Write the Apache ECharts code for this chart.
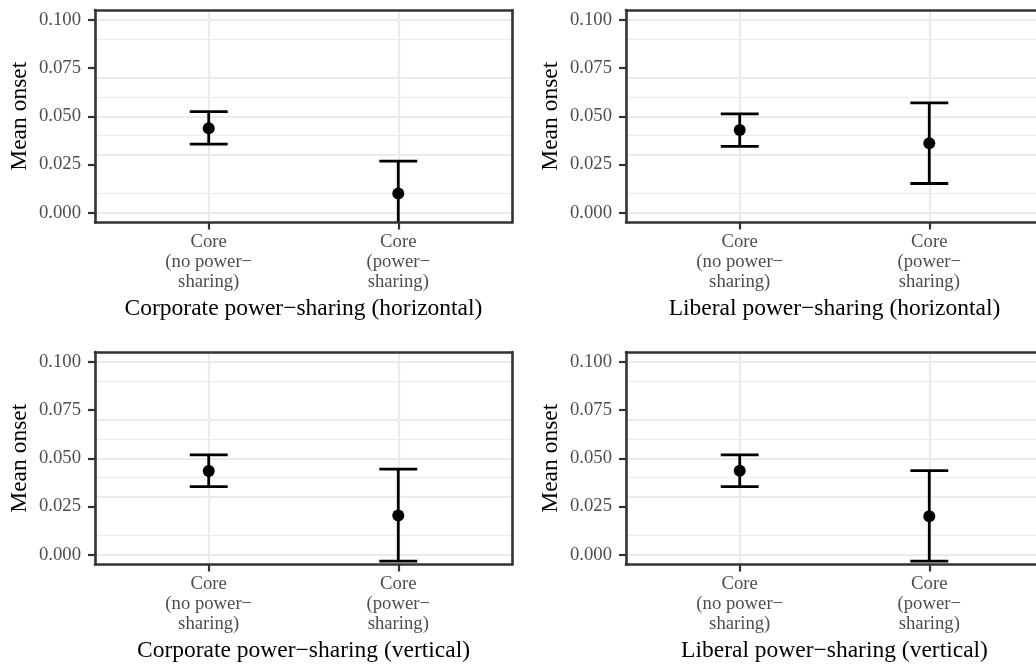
<!DOCTYPE html>
<html>
<head>
<meta charset="utf-8">
<script src="https://cdn.jsdelivr.net/npm/echarts@6/dist/echarts.min.js"></script>
<style>
html,body{margin:0;padding:0;background:#fff;}
#chart{width:1036px;height:666px;}
</style>
</head>
<body>
<div id="chart"></div>
<script>
// ---- data ----
const categoryLabels = ['Core\n(no power\u2212\nsharing)', 'Core\n(power\u2212\nsharing)'];
const categoryPositions = [1, 2];
const yTicks = [0, 0.025, 0.05, 0.075, 0.1];
const yMinorTicks = [0.0125, 0.0375, 0.0625, 0.0875];
const panelTitles = [
  'Corporate power\u2212sharing (horizontal)',
  'Liberal power\u2212sharing (horizontal)',
  'Corporate power\u2212sharing (vertical)',
  'Liberal power\u2212sharing (vertical)'
];
const yTitle = 'Mean onset';

const corpHorizMean = [0.0438, 0.0100];
const corpHorizLow  = [0.0356, -0.0068];
const corpHorizHigh = [0.0524, 0.0268];

const libHorizMean = [0.0429, 0.0360];
const libHorizLow  = [0.0344, 0.0152];
const libHorizHigh = [0.0512, 0.0569];

const corpVertMean = [0.0434, 0.0204];
const corpVertLow  = [0.0353, -0.0033];
const corpVertHigh = [0.0517, 0.0444];

const libVertMean = [0.0435, 0.0200];
const libVertLow  = [0.0353, -0.0033];
const libVertHigh = [0.0517, 0.0436];

const panels = [
  {mean: corpHorizMean, low: corpHorizLow, high: corpHorizHigh},
  {mean: libHorizMean, low: libHorizLow, high: libHorizHigh},
  {mean: corpVertMean, low: corpVertLow, high: corpVertHigh},
  {mean: libVertMean, low: libVertLow, high: libVertHigh}
];

// ---- layout / style ----
const FONT = 'Liberation Serif';
const Y_MIN = -0.005, Y_MAX = 0.105;
const X_MIN = 0.4, X_MAX = 2.6;
const FULL_W = 417;         // full panel width (right panels are cut by the page edge)
const CAP_WIDTH = 0.2;      // in category units
const gridPos = [
  {left: 95, top: 10, width: 417, height: 212.5, cut: false},
  {left: 626, top: 10, width: 410, height: 212.5, cut: true},
  {left: 95, top: 352, width: 417, height: 212.5, cut: false},
  {left: 626, top: 352, width: 410, height: 212.5, cut: true}
];
const BORDER = '#333333';
const BORDER_W = 2.6;
const GRID_COL = '#EBEBEB';

const grids = [], xAxes = [], yAxes = [], series = [];

panels.forEach((p, i) => {
  const g = gridPos[i];
  grids.push({left: g.left, top: g.top, width: g.width, height: g.height, containLabel: false});
  const xMax = X_MIN + (X_MAX - X_MIN) * g.width / FULL_W;
  const shift = (FULL_W - g.width); // keep title centred on the full panel
  xAxes.push({
    gridIndex: i, type: 'value', min: X_MIN, max: xMax, position: 'bottom', z: 10,
    name: panelTitles[i], nameLocation: 'middle', nameGap: 74,
    nameTextStyle: {fontFamily: FONT, fontSize: 23.5, color: '#000', padding: [0, 0, 0, shift]},
    axisLine: {show: true, onZero: false, lineStyle: {color: BORDER, width: BORDER_W}},
    axisTick: {show: true, length: 7, customValues: categoryPositions, lineStyle: {color: BORDER, width: 2.2}},
    axisLabel: {show: true, customValues: categoryPositions, margin: 10,
      fontFamily: FONT, fontSize: 18.7, lineHeight: 20, color: '#4D4D4D', align: 'center',
      formatter: v => categoryLabels[Math.round(v) - 1]},
    splitLine: {show: false}
  });
  xAxes.push({
    gridIndex: i, type: 'value', min: X_MIN, max: xMax, position: 'top', z: 10,
    axisLine: {show: true, onZero: false, lineStyle: {color: BORDER, width: BORDER_W}},
    axisTick: {show: false}, axisLabel: {show: false}, splitLine: {show: false}
  });
  yAxes.push({
    gridIndex: i, type: 'value', min: Y_MIN, max: Y_MAX, position: 'left', z: 10,
    name: yTitle, nameLocation: 'middle', nameGap: 63, nameRotate: 90,
    nameTextStyle: {fontFamily: FONT, fontSize: 23.5, color: '#000'},
    axisLine: {show: true, onZero: false, lineStyle: {color: BORDER, width: BORDER_W}},
    axisTick: {show: true, length: 7, customValues: yTicks, lineStyle: {color: BORDER, width: 2.2}},
    axisLabel: {show: true, customValues: yTicks, margin: 14,
      fontFamily: FONT, fontSize: 18.7, color: '#4D4D4D',
      formatter: v => v.toFixed(3)},
    splitLine: {show: false}
  });
  yAxes.push({
    gridIndex: i, type: 'value', min: Y_MIN, max: Y_MAX, position: 'right', z: 10,
    axisLine: {show: !g.cut, onZero: false, lineStyle: {color: BORDER, width: BORDER_W}},
    axisTick: {show: false}, axisLabel: {show: false}, splitLine: {show: false}
  });

  const xi = 2 * i, yi = 2 * i;
  const gridLines = [];
  yMinorTicks.forEach(v => gridLines.push({yAxis: v, lineStyle: {color: GRID_COL, width: 1.2, type: 'solid'}}));
  yTicks.forEach(v => gridLines.push({yAxis: v, lineStyle: {color: GRID_COL, width: 2.2, type: 'solid'}}));
  categoryPositions.forEach(v => gridLines.push({xAxis: v, lineStyle: {color: GRID_COL, width: 2.2, type: 'solid'}}));

  series.push({
    type: 'line', xAxisIndex: xi, yAxisIndex: yi, data: [], z: 1, silent: true,
    markLine: {silent: true, z: 1, symbol: ['none', 'none'], label: {show: false}, animation: false,
      emphasis: {disabled: true}, data: gridLines}
  });

  const ebData = categoryPositions.map((x, k) => [x, p.low[k], p.high[k]]);
  series.push({
    type: 'custom', xAxisIndex: xi, yAxisIndex: yi, z: 6, clip: true, silent: true,
    data: ebData,
    renderItem: (params, api) => {
      const x = api.value(0);
      const pLo = api.coord([x, api.value(1)]);
      const pHi = api.coord([x, api.value(2)]);
      const hw = api.size([CAP_WIDTH, 0])[0] / 2;
      const st = {stroke: '#000', lineWidth: 2.8, fill: null};
      return {type: 'group', children: [
        {type: 'line', shape: {x1: pLo[0], y1: pLo[1], x2: pHi[0], y2: pHi[1]}, style: st},
        {type: 'line', shape: {x1: pHi[0] - hw, y1: pHi[1], x2: pHi[0] + hw, y2: pHi[1]}, style: st},
        {type: 'line', shape: {x1: pLo[0] - hw, y1: pLo[1], x2: pLo[0] + hw, y2: pLo[1]}, style: st}
      ]};
    }
  });
  series.push({
    type: 'scatter', xAxisIndex: xi, yAxisIndex: yi, z: 7, silent: true,
    symbol: 'circle', symbolSize: 12, itemStyle: {color: '#000', opacity: 1},
    data: categoryPositions.map((x, k) => [x, p.mean[k]])
  });
});

const chart = echarts.init(document.getElementById('chart'), null, {renderer: 'canvas'});
chart.setOption({
  animation: false,
  backgroundColor: '#fff',
  grid: grids,
  xAxis: xAxes,
  yAxis: yAxes,
  series: series
});
</script>
</body>
</html>
